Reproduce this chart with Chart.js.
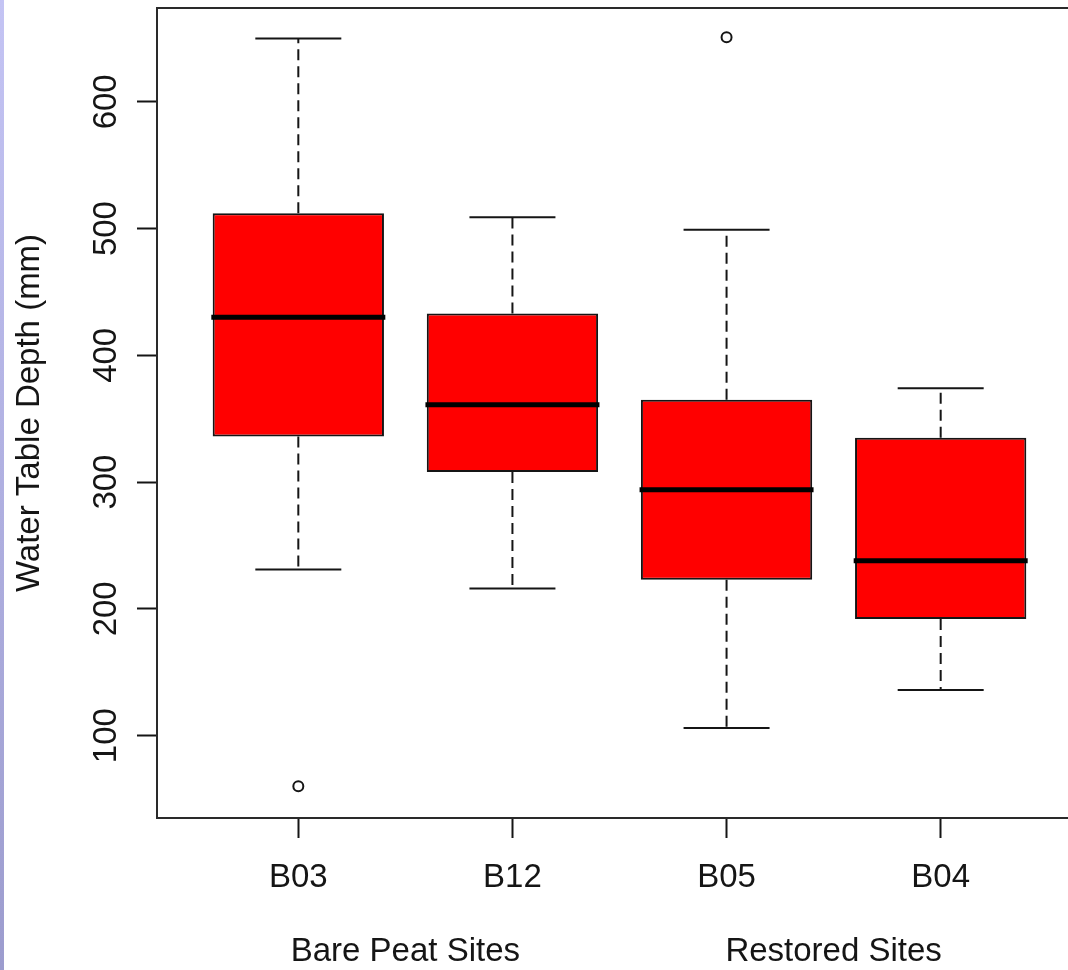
<!DOCTYPE html>
<html>
<head>
<meta charset="utf-8">
<script src="https://cdn.jsdelivr.net/npm/chart.js@4"></script>
<style>
  html, body { margin: 0; padding: 0; background: #fff; overflow: hidden; }
  #wrap { position: relative; width: 1068px; height: 970px; overflow: hidden; }
  #strip { position: absolute; left: 0; top: 0; width: 4px; height: 970px;
           background: linear-gradient(#c4c4f4, #9c9cce); }
</style>
</head>
<body>
<div id="wrap">
  <canvas id="chart" width="1100" height="970"></canvas>
  <div id="strip"></div>
</div>
<script>
// box plot values (mm)
const sites = ['B03', 'B12', 'B05', 'B04'];
const whiskerLow = [231, 216, 106, 136];
const lowerQuartile = [336, 308, 223, 192];
const medians = [430, 361, 294, 238];
const upperQuartile = [512, 433, 365, 335];
const whiskerHigh = [650, 509, 499, 374];
const outlierSite = [0, 2];
const outlierValue = [60, 651];

const groupLabels = ['Bare Peat Sites', 'Restored Sites'];
const siteGroup = [0, 0, 1, 1];
const yTicks = [100, 200, 300, 400, 500, 600];

const pos = sites.map((s, i) => i + 1);
const groupCenters = groupLabels.map((g, gi) => {
    const p = pos.filter((v, i) => siteGroup[i] === gi);
    return p.reduce((a, b) => a + b, 0) / p.length;
});

const whiskerData = [];
pos.forEach((x, i) => {
    whiskerData.push({ x: x, y: upperQuartile[i] }, { x: x, y: whiskerHigh[i] }, { x: x, y: null });
    whiskerData.push({ x: x, y: lowerQuartile[i] }, { x: x, y: whiskerLow[i] }, { x: x, y: null });
});
const capData = [];
pos.forEach((x, i) => {
    capData.push({ x: x, y: whiskerHigh[i] }, { x: x, y: whiskerLow[i] });
});
const boxData = pos.map((x, i) => ({ x: x, y: [lowerQuartile[i], upperQuartile[i]] }));
const medianData = pos.map((x, i) => ({ x: x, y: medians[i] }));
const outlierData = outlierSite.map((s, i) => ({ x: pos[s], y: outlierValue[i] }));

const ink = '#151515';
const font = { family: "'Liberation Sans', Arial, sans-serif", size: 33 };

// frame around the plot region, like base R's box()
const frame = {
    id: 'frame',
    afterDatasetsDraw(chart) {
        const a = chart.chartArea;
        const ctx = chart.ctx;
        ctx.save();
        ctx.strokeStyle = '#2a2a2a';
        ctx.lineWidth = 2;
        ctx.strokeRect(a.left, a.top, a.right - a.left, a.bottom - a.top);
        ctx.restore();
    }
};

new Chart(document.getElementById('chart'), {
    data: {
        datasets: [
            {
                type: 'line',
                data: whiskerData,
                borderColor: ink,
                borderWidth: 2,
                borderDash: [11, 6],
                pointRadius: 0,
                spanGaps: false,
                order: 5
            },
            {
                type: 'bar',
                data: boxData,
                backgroundColor: '#ff0000',
                borderColor: ink,
                borderWidth: 2,
                borderSkipped: false,
                barPercentage: 0.8,
                categoryPercentage: 1,
                order: 4
            },
            {
                type: 'scatter',
                data: capData,
                pointStyle: 'line',
                radius: 43,
                borderWidth: 2,
                borderColor: ink,
                order: 3
            },
            {
                type: 'scatter',
                data: medianData,
                pointStyle: 'line',
                radius: 87,
                borderWidth: 5,
                borderColor: '#000',
                order: 2
            },
            {
                type: 'scatter',
                data: outlierData,
                pointStyle: 'circle',
                radius: 5,
                borderWidth: 2,
                borderColor: ink,
                backgroundColor: '#fff',
                order: 1
            }
        ]
    },
    options: {
        responsive: false,
        animation: false,
        layout: { autoPadding: false, padding: { top: 8, right: 18, left: 0, bottom: 0 } },
        plugins: { legend: { display: false }, tooltip: { enabled: false } },
        scales: {
            x: {
                type: 'linear',
                position: 'bottom',
                weight: 0,
                offset: false,
                min: 0.34,
                max: 4.66,
                afterBuildTicks: (scale) => { scale.ticks = pos.map(v => ({ value: v })); },
                afterFit: (scale) => { scale.height = 80; },
                grid: { offset: false, drawOnChartArea: false, tickLength: 20, tickColor: ink, tickWidth: 2 },
                border: { display: false },
                ticks: {
                    autoSkip: false,
                    maxRotation: 0,
                    padding: 20,
                    color: ink,
                    font: font,
                    callback: (v) => sites[pos.indexOf(v)]
                }
            },
            x2: {
                type: 'linear',
                position: 'bottom',
                weight: 1,
                offset: false,
                min: 0.34,
                max: 4.66,
                afterBuildTicks: (scale) => { scale.ticks = groupCenters.map(v => ({ value: v })); },
                afterFit: (scale) => { scale.height = 72; },
                grid: { display: false, drawTicks: false, offset: false },
                border: { display: false },
                ticks: {
                    autoSkip: false,
                    maxRotation: 0,
                    padding: 34,
                    color: ink,
                    font: font,
                    callback: (v) => groupLabels[groupCenters.indexOf(v)]
                }
            },
            y: {
                type: 'linear',
                min: 35,
                max: 674,
                afterBuildTicks: (scale) => { scale.ticks = yTicks.map(v => ({ value: v })); },
                afterFit: (scale) => {
                    scale.width = 157;
                    scale.paddingTop = 0;
                    scale.paddingBottom = 0;
                },
                grid: { drawOnChartArea: false, tickLength: 20, tickColor: ink, tickWidth: 2 },
                border: { display: false },
                ticks: {
                    minRotation: 90,
                    maxRotation: 90,
                    crossAlign: 'center',
                    padding: 3,
                    color: ink,
                    font: font
                },
                title: {
                    display: true,
                    text: 'Water Table Depth (mm)',
                    color: ink,
                    font: font,
                    padding: { top: 10, bottom: 0 }
                }
            }
        }
    },
    plugins: [frame]
});
</script>
</body>
</html>
